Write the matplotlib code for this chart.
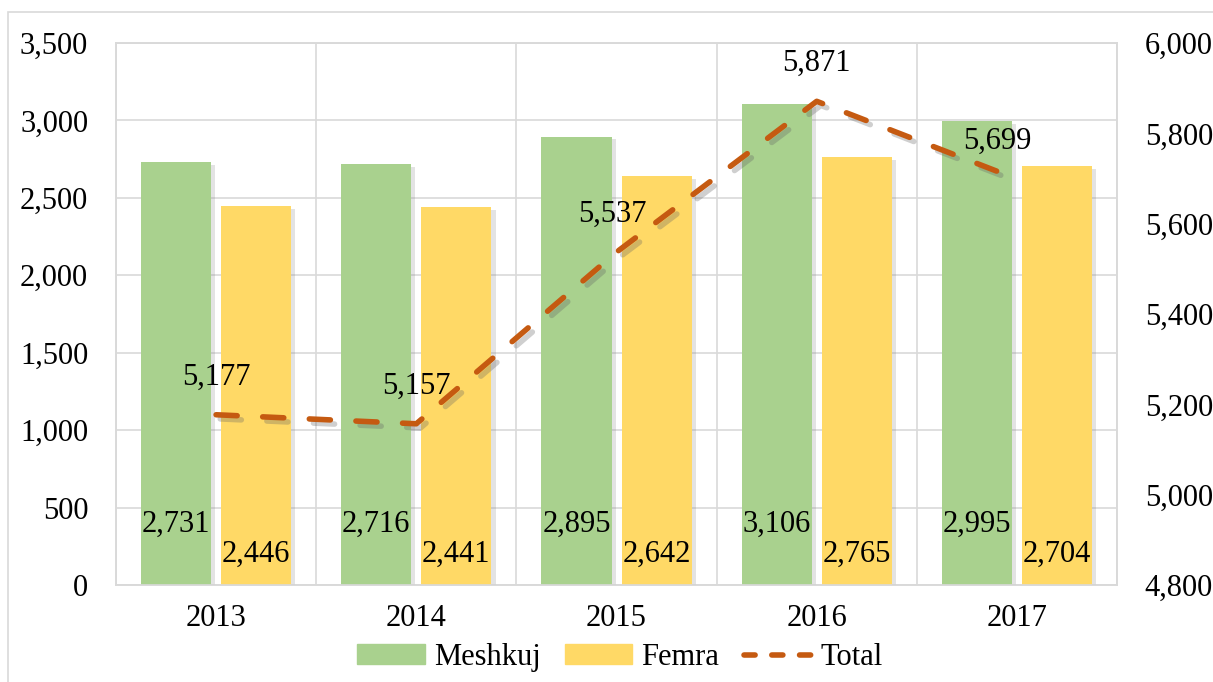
import numpy as np
import matplotlib
matplotlib.use('Agg')
import matplotlib.pyplot as plt
import matplotlib.patheffects as pe
from matplotlib.patches import Rectangle
from matplotlib.lines import Line2D

plt.rcParams['font.family'] = ['Liberation Serif', 'DejaVu Serif']

years = ['2013', '2014', '2015', '2016', '2017']
meshkuj = [2731, 2716, 2895, 3106, 2995]
femra = [2446, 2441, 2642, 2765, 2704]
total = [5177, 5157, 5537, 5871, 5699]

green = '#A9D18E'
yellow = '#FFD966'
orange = '#C55A11'
grid = '#D9D9D9'
fs = 22

fig = plt.figure(figsize=(12.13, 6.82), dpi=100)
ax = fig.add_axes([0.0956, 0.1422, 0.8253, 0.7947])
ax2 = ax.twinx()

# outer frame of the chart area
fig.patches.append(Rectangle((0.0066, -0.1), 1.2, 1.1 - 0.0176, transform=fig.transFigure,
                             fill=False, edgecolor=grid, linewidth=1.2, zorder=0))

x = np.arange(len(years))
w = 0.35
shadow = [pe.SimplePatchShadow(offset=(3, -2), shadow_rgbFace='#808080', alpha=0.22), pe.Normal()]
b1 = ax.bar(x - 0.2, meshkuj, w, color=green, zorder=3)
b2 = ax.bar(x + 0.2, femra, w, color=yellow, zorder=3)
for b in list(b1) + list(b2):
    b.set_path_effects(shadow)

for xi, v in zip(x, meshkuj):
    ax.annotate(f'{v:,}', (xi - 0.2, 0), xytext=(0, 44), textcoords='offset points',
                ha='center', va='center', fontsize=fs, zorder=5)
for xi, v in zip(x, femra):
    ax.annotate(f'{v:,}', (xi + 0.2, 0), xytext=(0, 22), textcoords='offset points',
                ha='center', va='center', fontsize=fs, zorder=5)

ax.set_xlim(-0.5, 4.5)
ax.set_ylim(0, 3500)
ax.set_yticks(np.arange(0, 3501, 500))
ax.yaxis.set_major_formatter(matplotlib.ticker.FuncFormatter(lambda v, p: f'{int(v):,}'))
ax.set_xticks(x)
ax.set_xticklabels(years)
ax.set_xticks(np.arange(-0.5, 4.6, 1), minor=True)
ax.grid(axis='y', color=grid, linewidth=1.2, zorder=0)
ax.grid(axis='x', which='minor', color=grid, linewidth=1.2, zorder=0)
ax.set_axisbelow(True)
ax.tick_params(axis='both', which='both', length=0, labelsize=fs)
ax.tick_params(axis='y', pad=20)
ax.tick_params(axis='x', pad=14)

dash = (0, (3.8, 4.6))
line, = ax2.plot(x, total, color=orange, linewidth=4, linestyle=dash,
                 dash_capstyle='round', zorder=4)
line.set_path_effects([pe.SimpleLineShadow(offset=(3, -3), shadow_color='#606060', alpha=0.3),
                       pe.Normal()])
nudge = [0, 0, -3, 0, -14]
for xi, v, dx in zip(x, total, nudge):
    ax2.annotate(f'{v:,}', (xi, v), xytext=(dx, 27), textcoords='offset points',
                 ha='center', va='center', fontsize=fs, zorder=6)
ax2.set_ylim(4800, 6000)
ax2.set_yticks(np.arange(4800, 6001, 200))
ax2.yaxis.set_major_formatter(matplotlib.ticker.FuncFormatter(lambda v, p: f'{int(v):,}'))
ax2.tick_params(axis='y', length=0, labelsize=fs, pad=20)

for a in (ax, ax2):
    for s in a.spines.values():
        s.set_color(grid)
        s.set_linewidth(1.2)

handles = [Rectangle((0, 0), 1, 1, color=green), Rectangle((0, 0), 1, 1, color=yellow),
           Line2D([], [], color=orange, linewidth=4, linestyle=(0, (2.0, 3.0)),
                  dash_capstyle='round')]
fig.legend(handles, ['Meshkuj', 'Femra', 'Total'], loc='center', bbox_to_anchor=(0.511, 0.036),
           ncol=3, frameon=False, fontsize=fs, handlelength=2.2, handleheight=0.6,
           columnspacing=0.8, handletextpad=0.3)

fig.savefig('out.png', dpi=100)
